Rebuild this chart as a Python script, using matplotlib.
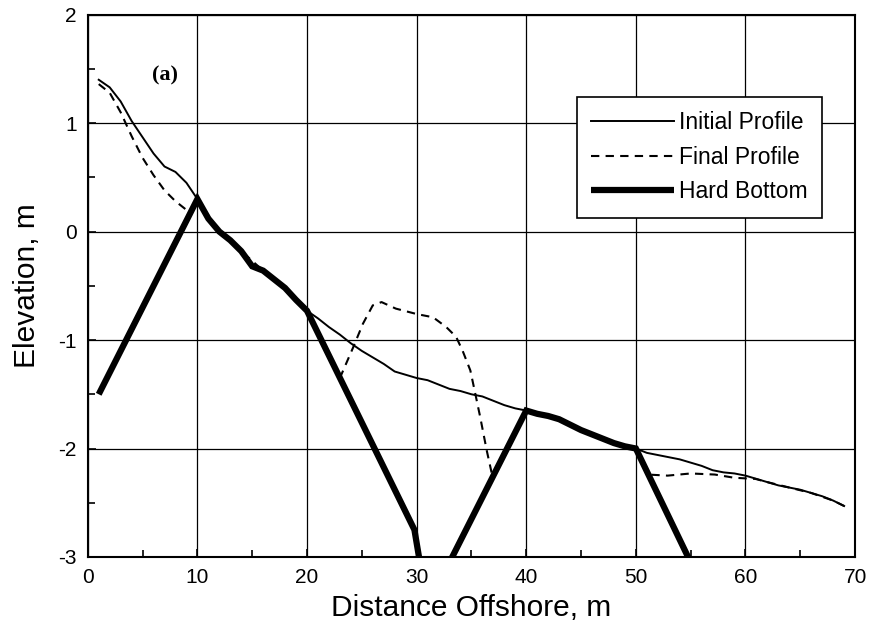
import matplotlib
matplotlib.use("Agg")
import matplotlib.pyplot as plt
import numpy as np

plt.rcParams['font.family'] = ['Liberation Sans', 'DejaVu Sans']
plt.rcParams['axes.unicode_minus'] = False

# initial profile (m)
init_x = [1, 2, 3, 4, 5, 6, 7, 8, 9, 10, 11, 12, 13, 14, 15, 16, 17, 18, 19, 20,
          21, 22, 23, 24, 25, 26, 27, 28, 29, 30, 31, 32, 33, 34, 35, 36, 37, 38, 39, 40,
          41, 42, 43, 44, 45, 46, 47, 48, 49, 50, 51, 52, 53, 54, 55, 56, 57, 58, 59, 60,
          61, 62, 63, 64, 65, 66, 67, 68, 69]
init_y = [1.40, 1.33, 1.20, 1.02, 0.87, 0.72, 0.60, 0.55, 0.45, 0.30,
          0.12, 0.00, -0.08, -0.18, -0.32, -0.36, -0.44, -0.52, -0.63, -0.73,
          -0.80, -0.88, -0.95, -1.03, -1.10, -1.16, -1.22, -1.29, -1.32, -1.35,
          -1.37, -1.41, -1.45, -1.47, -1.50, -1.52, -1.56, -1.60, -1.63, -1.65,
          -1.68, -1.70, -1.73, -1.78, -1.83, -1.87, -1.91, -1.95, -1.98, -2.00,
          -2.04, -2.06, -2.08, -2.10, -2.13, -2.16, -2.20, -2.22, -2.23, -2.25,
          -2.28, -2.31, -2.34, -2.36, -2.38, -2.41, -2.44, -2.48, -2.53]

# final profile
final_x = [1, 2, 3, 4, 5, 6, 7, 8, 9, 9.3, 10, 12, 14, 16, 18, 20,
           23.0, 24.2, 25.1, 26.0, 26.8, 28.1, 30.0, 31.5, 32.7, 33.6, 34.2, 34.9,
           35.3, 35.8, 36.4, 36.9, 40, 42, 44, 46, 48, 50,
           51.1, 52.9, 55.0, 57.2, 59.0, 60.9, 62, 64, 66, 68, 69]
final_y = [1.36, 1.28, 1.10, 0.88, 0.68, 0.52, 0.38, 0.28, 0.20, 0.17, 0.30, 0.00, -0.18, -0.36, -0.52, -0.73,
           -1.35, -1.07, -0.85, -0.68, -0.65, -0.71, -0.76, -0.79, -0.88, -0.97, -1.10, -1.28,
           -1.47, -1.71, -2.02, -2.25, -1.65, -1.70, -1.78, -1.87, -1.95, -2.00,
           -2.24, -2.25, -2.23, -2.24, -2.27, -2.28, -2.31, -2.36, -2.41, -2.48, -2.53]

# hard bottom (nan = break)
hard_x = [1, 10, 11, 12, 13, 14, 15, 16, 17, 18, 19, 20, 29.8, 30.3, np.nan,
          33.0, 40, 41, 42, 43, 44, 45, 46, 47, 48, 49, 50, 55]
hard_y = [-1.5, 0.30, 0.12, 0.00, -0.08, -0.18, -0.32, -0.36, -0.44, -0.52, -0.63, -0.73, -2.75, -3.05, np.nan,
          -3.05, -1.65, -1.68, -1.70, -1.73, -1.78, -1.83, -1.87, -1.91, -1.95, -1.98, -2.00, -3.05]

fig = plt.figure(figsize=(8.69, 6.38), dpi=100)
ax = fig.add_axes([0.101, 0.127, 0.883, 0.850])

ax.plot(final_x, final_y, color='black', lw=1.5, ls=(0, (4, 3)), zorder=2, label='Final Profile')
ax.plot(init_x, init_y, color='black', lw=1.4, zorder=3, label='Initial Profile')
ax.plot(hard_x, hard_y, color='black', lw=4.5, zorder=4, solid_joinstyle='miter',
        solid_capstyle='butt', label='Hard Bottom')

ax.set_xlim(0, 70)
ax.set_ylim(-3, 2)
ax.set_xticks(np.arange(0, 71, 10))
ax.set_yticks(np.arange(-3, 2.1, 1))
ax.set_xticks(np.arange(5, 70, 10), minor=True)
ax.set_yticks(np.arange(-2.5, 2, 1), minor=True)
ax.grid(True, which='major', color='black', lw=0.9)
ax.tick_params(which='both', direction='in', labelsize=15, width=1.2)
ax.tick_params(which='major', length=6, pad=8)
ax.tick_params(which='minor', length=5)
for s in ax.spines.values():
    s.set_linewidth(1.5)

ax.set_xlabel('Distance Offshore, m', fontsize=21.5, labelpad=5)
ax.set_ylabel('Elevation, m', fontsize=21.5, labelpad=12)

ax.text(7.0, 1.44, '(a)', fontsize=16, fontweight='bold', family='Liberation Serif',
        ha='center', va='center')

handles, labels = ax.get_legend_handles_labels()
order = [1, 0, 2]
leg = ax.legend([handles[i] for i in order], [labels[i] for i in order],
                loc='upper right', bbox_to_anchor=(0.957, 0.849), borderaxespad=0,
                fontsize=16.5, handlelength=3.6, handletextpad=0.2, labelspacing=0.5,
                fancybox=False, framealpha=1, edgecolor='black', borderpad=0.65)
leg.get_frame().set_linewidth(1.2)

fig.savefig('out.png', dpi=100)
